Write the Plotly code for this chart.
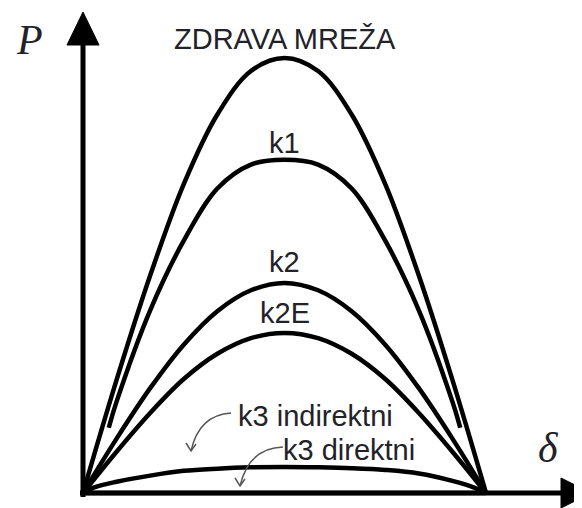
import plotly.graph_objects as go

# ── Data: power-angle curves P(delta) ────────────────────────────────────────
DELTA = [0, 15, 30, 45, 60, 75, 90, 105, 120, 135, 150, 165, 180]

P_ZDRAVA = [0, 0.26, 0.50, 0.71, 0.87, 0.97, 1.00, 0.97, 0.87, 0.71, 0.50, 0.26, 0]

DELTA_K1 = [11.5, 15, 30, 45, 60, 75, 90, 105, 120, 135, 150, 165, 168.5]
P_K1 = [0.15, 0.21, 0.42, 0.58, 0.70, 0.755, 0.766, 0.755, 0.70, 0.58, 0.42, 0.21, 0.15]

P_K2 = [0, 0.125, 0.241, 0.341, 0.418, 0.466, 0.483, 0.466, 0.418, 0.341, 0.241, 0.125, 0]
P_K2E = [0, 0.095, 0.184, 0.262, 0.320, 0.356, 0.368, 0.356, 0.320, 0.262, 0.184, 0.095, 0]

DELTA_K3 = [0, 5, 15, 30, 45, 60, 75, 90, 105, 120, 135, 150, 165, 175, 180]
P_K3_IND = [0, 0.013, 0.026, 0.040, 0.051, 0.056, 0.059, 0.060, 0.059, 0.057, 0.053, 0.045, 0.028, 0.012, 0]
P_K3_DIR = [0] * len(DELTA_K3)

LABELS = ["ZDRAVA MREŽA", "k1", "k2", "k2E", "k3 indirektni", "k3 direktni"]

# ── Canvas geometry (screen pixels -> data) ──────────────────────────────────
W, H = 582, 508
OFF = 8               # page body margin in front of the plot div
ORIGIN_PX = (83, 493)
END_PX = 486          # pixel of delta = 180
PEAK_PX = 58          # pixel of P = 1

sx = (END_PX - ORIGIN_PX[0]) / 180.0
sy = (ORIGIN_PX[1] - PEAK_PX) / 1.0
X0 = -(ORIGIN_PX[0] - OFF) / sx
X1 = X0 + W / sx
Y1 = (ORIGIN_PX[1] - OFF) / sy
Y0 = Y1 - H / sy


def dx(px):
    return X0 + (px - OFF) / sx


def dy(py):
    return Y1 - (py - OFF) / sy


fig = go.Figure()

curves = [
    (DELTA, P_ZDRAVA),
    (DELTA_K1, P_K1),
    (DELTA, P_K2),
    (DELTA, P_K2E),
    (DELTA_K3, P_K3_IND),
    (DELTA_K3, P_K3_DIR),
]
for (xs, ys), name in zip(curves, LABELS):
    fig.add_trace(go.Scatter(
        x=xs, y=ys, name=name, mode="lines",
        line=dict(color="black", width=4.5, shape="spline", smoothing=1.0),
        hoverinfo="name",
    ))

shapes = []
# axes with arrow heads
shapes.append(dict(type="line", x0=0, y0=dy(497), x1=0, y1=dy(38),
                   line=dict(color="black", width=5)))
shapes.append(dict(type="line", x0=dx(80), y0=0, x1=dx(565), y1=0,
                   line=dict(color="black", width=5)))
shapes.append(dict(
    type="path",
    path=f"M {dx(83)},{dy(12)} L {dx(67)},{dy(45)} L {dx(99)},{dy(45)} Z",
    fillcolor="black", line=dict(color="black", width=1)))
shapes.append(dict(
    type="path",
    path=f"M {dx(591)},{dy(493)} L {dx(561)},{dy(478)} L {dx(561)},{dy(508)} Z",
    fillcolor="black", line=dict(color="black", width=1)))

# small curved pointer arrows for the k3 labels
arrow_col = "#555555"
for (sx0, sy0), (cx, cy), (ex, ey) in [
    ((231, 413), (199, 415), (191, 451)),
    ((283, 447), (249, 448), (240, 486)),
]:
    shapes.append(dict(
        type="path",
        path=f"M {dx(sx0)},{dy(sy0)} Q {dx(cx)},{dy(cy)} {dx(ex)},{dy(ey)}",
        line=dict(color=arrow_col, width=1.5)))
    shapes.append(dict(
        type="path",
        path=(f"M {dx(ex - 5)},{dy(ey - 8)} L {dx(ex)},{dy(ey)} "
              f"L {dx(ex + 5)},{dy(ey - 7)}"),
        line=dict(color=arrow_col, width=1.5)))

TXT = dict(family="Arial, Liberation Sans, sans-serif", size=29, color="#222228")
SERIF = dict(family="Times New Roman, Liberation Serif, serif", size=42, color="#222228")

annotations = []
for text, (px, py) in zip(
    LABELS,
    [(285, 39), (284, 143), (284, 262), (285, 313), (315, 416), (349, 450)],
):
    annotations.append(dict(x=dx(px), y=dy(py), text=text, showarrow=False,
                            font=TXT, xanchor="center", yanchor="middle"))
annotations.append(dict(x=dx(29), y=dy(40), text="<i>P</i>", showarrow=False,
                        font=SERIF, xanchor="center", yanchor="middle"))
annotations.append(dict(x=dx(548), y=dy(448), text="<i>δ</i>", showarrow=False,
                        font=SERIF, xanchor="center", yanchor="middle"))

fig.update_layout(
    width=W, height=H,
    margin=dict(l=0, r=0, t=0, b=0),
    paper_bgcolor="white", plot_bgcolor="white",
    showlegend=False,
    xaxis=dict(range=[X0, X1], visible=False, fixedrange=True),
    yaxis=dict(range=[Y0, Y1], visible=False, fixedrange=True),
    shapes=shapes,
    annotations=annotations,
)

fig.write_html("out.html")
